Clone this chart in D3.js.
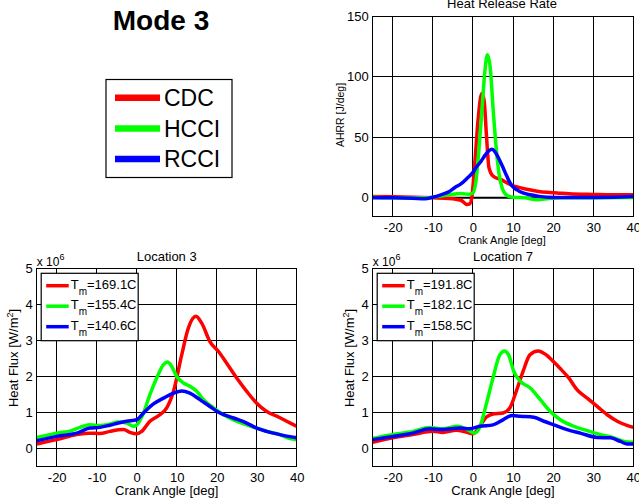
<!DOCTYPE html>
<html><head><meta charset="utf-8">
<script src="https://cdn.jsdelivr.net/npm/d3@7"></script>
<style>
html,body{margin:0;padding:0;background:#fff;}
svg{display:block;font-family:"Liberation Sans",Arial,sans-serif;}
</style></head>
<body><svg id="c" width="639" height="504"></svg>
<script>
// ---------- DATA ----------
const xTicks = [-20, -10, 0, 10, 20, 30, 40];
const hrrTicks = [0, 50, 100, 150];
const fluxTicks = [0, 1, 2, 3, 4, 5];
const modeNames = ["CDC", "HCCI", "RCCI"];
const seriesColors = ["#ff0000", "#00ff00", "#0000ff"];

// Heat release rate [J/deg] vs crank angle
const hrrCDC = [[-25,1],[-20,0.8],[-15,0.5],[-10,0],[-6,-0.5],[-3,-2],[-1.5,-5.5],[-0.8,-5],[-0.3,0],[0.5,30],[1.3,65],[2.2,86],[2.8,80],[3.4,50],[4,25],[5,18],[7,15],[9.3,11],[11,9],[13.5,7],[16,5.5],[18.5,4.5],[21,4],[24,3.3],[30,2.8],[35,2.5],[40,2.5]];
const hrrHCCI = [[-25,0.5],[-20,0],[-15,0],[-12,0],[-9,1],[-6,2.5],[-3,3.5],[-1,3],[0,4],[0.8,15],[1.5,40],[2.3,75],[3,105],[3.6,118],[4.3,108],[5,75],[5.7,45],[6.5,20],[7.3,8],[8.5,2],[10,0.5],[13,0],[16,-1.5],[19,-0.5],[22,0],[30,0],[40,0.3]];
const hrrRCCI = [[-25,0],[-20,0],[-15,-0.3],[-12,-0.8],[-10,0.5],[-8,2.5],[-6,5],[-4.5,8.5],[-3,11.5],[-1.5,16],[0,21],[1,26],[2,30],[3,35],[4,39],[4.8,40],[5.5,38],[6.5,32],[7.5,25],[8.5,17.5],[9.5,11],[11,6.5],[12.5,4],[14.3,2.5],[16.5,1.2],[18.5,0.5],[22,0.2],[30,0.3],[35,0.5],[40,1]];

// Heat flux [x1e6 W/m^2], Location 3
const loc3Labels = ["169.1C", "155.4C", "140.6C"];
const loc3Red = [[-25,0.13],[-20,0.25],[-15,0.39],[-11.7,0.43],[-9.2,0.42],[-6.7,0.48],[-3.3,0.53],[-1.7,0.45],[0,0.41],[1.25,0.48],[3.3,0.76],[5.8,0.94],[7.5,1.13],[9.2,1.59],[11.25,2.6],[12.9,3.34],[14.8,3.67],[16.25,3.48],[18.3,2.97],[20.4,2.7],[22.5,2.37],[25,1.96],[27.5,1.59],[30,1.26],[32.5,1.03],[35,0.9],[37.5,0.76],[40,0.62]];
const loc3Green = [[-25,0.31],[-20,0.43],[-16.25,0.5],[-14.2,0.59],[-11.7,0.66],[-9.2,0.64],[-6.7,0.68],[-4.6,0.74],[-2.5,0.71],[-0.8,0.62],[0,0.66],[1.7,0.99],[3.3,1.5],[5,1.96],[6.7,2.33],[7.7,2.4],[8.75,2.28],[10,2.0],[11.7,1.82],[13.3,1.73],[15,1.59],[16.7,1.36],[19.2,1.13],[21.7,0.94],[24.2,0.8],[27.5,0.66],[30,0.57],[32.5,0.48],[35.8,0.39],[38.3,0.28],[40,0.25]];
const loc3Blue = [[-25,0.22],[-20,0.34],[-15,0.43],[-11.7,0.57],[-9.2,0.59],[-6.7,0.65],[-4.6,0.71],[-2.5,0.76],[0,0.8],[1.7,0.99],[4.2,1.24],[6.7,1.4],[9.2,1.54],[11.25,1.6],[13.3,1.54],[15.8,1.36],[18.3,1.17],[20.8,0.99],[24.2,0.85],[27.5,0.71],[30,0.57],[32.5,0.48],[35.8,0.39],[40,0.3]];

// Heat flux [x1e6 W/m^2], Location 7
const loc7Labels = ["191.8C", "182.1C", "158.5C"];
const loc7Red = [[-25,0.18],[-20,0.3],[-15,0.39],[-10,0.48],[-7.5,0.45],[-4.2,0.51],[-1.7,0.46],[0,0.41],[1.7,0.62],[3.3,0.87],[5,0.96],[7.5,0.99],[9.2,1.13],[10.8,1.59],[12.5,2.14],[14.2,2.6],[16.25,2.71],[18.3,2.6],[20,2.42],[21.7,2.23],[23.9,1.96],[26,1.63],[28.5,1.4],[31,1.17],[33.5,0.94],[36,0.76],[40,0.59]];
const loc7Green = [[-25,0.28],[-20,0.39],[-15,0.48],[-10.8,0.59],[-7.5,0.55],[-3.75,0.62],[-1.7,0.55],[0.4,0.43],[1.7,0.59],[3.3,1.22],[5,1.96],[6.7,2.6],[7.9,2.71],[8.9,2.6],[10.2,2.14],[11.8,1.87],[14.3,1.68],[16.8,1.36],[19.3,1.03],[21.8,0.8],[25.2,0.62],[28.5,0.5],[31.8,0.39],[35.2,0.3],[37.7,0.2],[40,0.18]];
const loc7Blue = [[-25,0.25],[-20,0.34],[-15,0.43],[-10.8,0.55],[-7.5,0.53],[-3.3,0.57],[-0.8,0.55],[1.7,0.62],[5,0.66],[7.5,0.8],[9.75,0.92],[11.8,0.9],[15.2,0.87],[17.7,0.76],[20.2,0.66],[23.5,0.53],[26.8,0.43],[31,0.31],[34.3,0.3],[36.8,0.2],[38.5,0.13],[40,0.13]];

// ---------- DRAW ----------
const svg = d3.select("#c");
const fmt = d => String(d);

function panel(o) {
  const x = d3.scaleLinear().domain([-25, 40]).range([o.x0, o.x1]);
  const y = d3.scaleLinear().domain(o.yDomain).range([o.y1, o.y0]);
  const g = svg.append("g");
  const cid = "clip" + o.id;
  svg.append("clipPath").attr("id", cid).append("rect")
    .attr("x", o.x0).attr("y", o.y0).attr("width", o.x1 - o.x0).attr("height", o.y1 - o.y0);

  // grid
  g.append("g").selectAll("line").data(xTicks).join("line")
    .attr("x1", d => x(d)).attr("x2", d => x(d)).attr("y1", o.y0).attr("y2", o.y1)
    .attr("stroke", "#000").attr("stroke-width", 1).attr("shape-rendering", "crispEdges");
  g.append("g").selectAll("line").data(o.yTicks).join("line")
    .attr("x1", o.x0).attr("x2", o.x1).attr("y1", d => y(d)).attr("y2", d => y(d))
    .attr("stroke", "#000").attr("stroke-width", 1).attr("shape-rendering", "crispEdges");
  if (o.zeroLine) {
    g.append("line").attr("x1", o.x0).attr("x2", o.x1).attr("y1", y(0)).attr("y2", y(0))
      .attr("stroke", "#000").attr("stroke-width", 2);
  }

  // axes with tick labels
  const ax = g.append("g").attr("transform", `translate(0,${o.y1})`)
    .call(d3.axisBottom(x).tickValues(xTicks).tickSize(0).tickPadding(o.xPad).tickFormat(fmt));
  const ay = g.append("g").attr("transform", `translate(${o.x0},0)`)
    .call(d3.axisLeft(y).tickValues(o.yTicks).tickSize(0).tickPadding(4).tickFormat(fmt));
  [ax, ay].forEach(a => {
    a.select(".domain").remove();
    a.selectAll("text").attr("font-size", 13).attr("fill", "#000")
      .attr("font-family", "Liberation Sans, Arial, sans-serif");
  });

  // series
  const line = d3.line().x(d => x(d[0])).y(d => y(d[1])).curve(d3.curveMonotoneX);
  const lg = g.append("g").attr("clip-path", `url(#${cid})`);
  o.series.forEach((s, i) => {
    lg.append("path").datum(s).attr("d", line)
      .attr("fill", "none").attr("stroke", seriesColors[i]).attr("stroke-width", 3.5)
      .attr("stroke-linejoin", "round").attr("stroke-linecap", "round");
  });

  // frame
  g.append("rect").attr("x", o.x0).attr("y", o.y0).attr("width", o.x1 - o.x0).attr("height", o.y1 - o.y0)
    .attr("fill", "none").attr("stroke", "#000").attr("stroke-width", 1).attr("shape-rendering", "crispEdges");
  return {x, y, g};
}

// Title + mode legend
svg.append("text").attr("x", 161).attr("y", 30).attr("text-anchor", "middle")
  .attr("font-size", 28).attr("font-weight", "bold").text("Mode 3");
svg.append("rect").attr("x", 106).attr("y", 79.5).attr("width", 126).attr("height", 98)
  .attr("fill", "#fff").attr("stroke", "#000").attr("stroke-width", 1.2);
modeNames.forEach((n, i) => {
  const yy = 97.7 + i * 30.7;
  svg.append("line").attr("x1", 115).attr("x2", 160).attr("y1", yy).attr("y2", yy)
    .attr("stroke", seriesColors[i]).attr("stroke-width", 6.5);
  svg.append("text").attr("x", 164).attr("y", yy + 8.3).attr("font-size", 23).text(n);
});

// HRR panel
panel({id: "h", x0: 372.7, x1: 633.3, y0: 16, y1: 216, yDomain: [-15, 150], yTicks: hrrTicks,
  xPad: 7, zeroLine: true, series: [hrrCDC, hrrHCCI, hrrRCCI]});
svg.append("text").attr("x", 502).attr("y", 8).attr("text-anchor", "middle").attr("font-size", 13).text("Heat Release Rate");
svg.append("text").attr("x", 502).attr("y", 244).attr("text-anchor", "middle").attr("font-size", 11).text("Crank Angle [deg]");
svg.append("text").attr("transform", "translate(344,115) rotate(-90)").attr("text-anchor", "middle")
  .attr("font-size", 10.5).text("AHRR [J/deg]");

// Heat flux panels
function fluxPanel(id, x0, x1, title, series, labels, yLabelX) {
  panel({id, x0, x1, y0: 268.3, y1: 466.7, yDomain: [-0.5, 5], yTicks: fluxTicks, xPad: 6, series});
  const cx = (x0 + x1) / 2;
  svg.append("text").attr("x", cx).attr("y", 261).attr("text-anchor", "middle").attr("font-size", 13).text(title);
  svg.append("text").attr("x", cx).attr("y", 495).attr("text-anchor", "middle").attr("font-size", 13).text("Crank Angle [deg]");
  const yl = svg.append("text").attr("transform", `translate(${yLabelX},358) rotate(-90)`)
    .attr("text-anchor", "middle").attr("font-size", 13);
  yl.append("tspan").text("Heat Flux [W/m");
  yl.append("tspan").attr("font-size", 9).attr("dy", -5).text("2");
  yl.append("tspan").attr("dy", 5).text("]");
  const ex = svg.append("text").attr("x", x0).attr("y", 266).attr("font-size", 12);
  ex.append("tspan").text("x 10");
  ex.append("tspan").attr("font-size", 9).attr("dy", -6).text("6");
  // legend
  svg.append("rect").attr("x", x0 + 4.5).attr("y", 273.3).attr("width", 97).attr("height", 67.4)
    .attr("fill", "#fff").attr("stroke", "#000").attr("stroke-width", 1.2);
  labels.forEach((l, i) => {
    const yy = 285.7 + i * 20.5;
    svg.append("line").attr("x1", x0 + 9.5).attr("x2", x0 + 32).attr("y1", yy).attr("y2", yy)
      .attr("stroke", seriesColors[i]).attr("stroke-width", 3.5);
    const t = svg.append("text").attr("x", x0 + 34).attr("y", yy + 3).attr("font-size", 13);
    t.append("tspan").text("T");
    t.append("tspan").attr("font-size", 10).attr("dy", 6).text("m");
    t.append("tspan").attr("dy", -6).text("=" + l);
  });
}
fluxPanel("a", 36.7, 296.7, "Location 3", [loc3Red, loc3Green, loc3Blue], loc3Labels, 18);
fluxPanel("b", 372.7, 633.3, "Location 7", [loc7Red, loc7Green, loc7Blue], loc7Labels, 354);
</script></body></html>
